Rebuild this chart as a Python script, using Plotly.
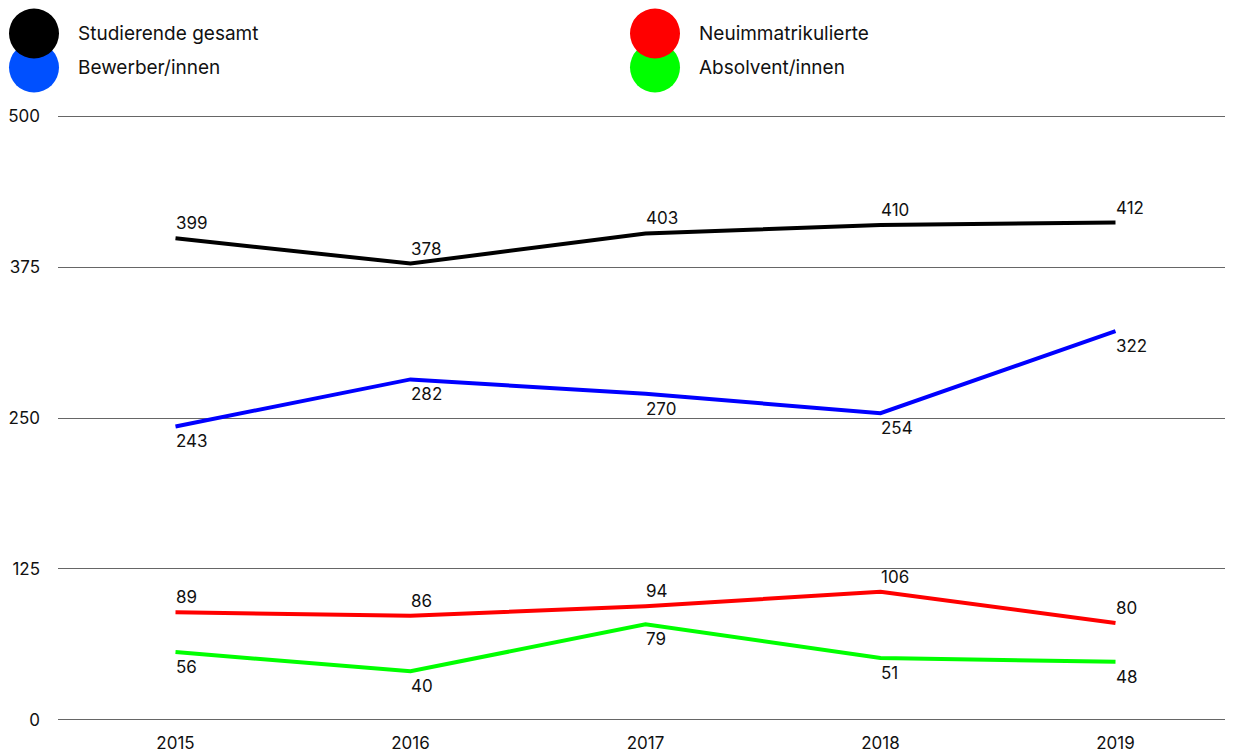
import plotly.graph_objects as go

years = ["2015", "2016", "2017", "2018", "2019"]
studierende = [399, 378, 403, 410, 412]
bewerber = [243, 282, 270, 254, 322]
neuimmatrikulierte = [89, 86, 94, 106, 80]
absolventen = [56, 40, 79, 51, 48]
y_ticks = [0, 125, 250, 375, 500]

# the page body adds an 8px offset; figure is sized to fill the rest
OFF = 8
W, H = 1233 - OFF, 754 - OFF
PXU = 604 / 500.0           # pixels per data unit
PAD = 2                     # data-unit padding so edge gridlines show
L = 58 - OFF
T = 116 - OFF - PAD * PXU
B = 34 - PAD * PXU
R = 0
FONT = "Inter"
TXT = "#111111"

series = [
    ("Studierende gesamt", studierende, "#000000", 1),
    ("Bewerber/innen", bewerber, "#0000ff", -1),
    ("Neuimmatrikulierte", neuimmatrikulierte, "#ff0000", 1),
    ("Absolvent/innen", absolventen, "#00ff00", -1),
]

fig = go.Figure()
annotations = []
for name, vals, col, side in series:
    fig.add_trace(go.Scatter(
        x=years, y=vals, mode="lines", name=name,
        line=dict(color=col, width=4),
        showlegend=False,
    ))
    for i, v in enumerate(vals):
        annotations.append(dict(
            x=i, y=v, xref="x", yref="y", text=str(v), showarrow=False,
            xanchor="left", yanchor="middle", xshift=-2, yshift=15 * side,
            font=dict(family=FONT, size=17, color=TXT)))


def px(x):
    return (x - OFF - L) / (W - L - R)


def py(y):
    return (H - B - (y - OFF)) / (H - T - B)


legend = [
    ("Bewerber/innen", "#0050ff", 34, 67),
    ("Studierende gesamt", "#000000", 34, 33),
    ("Absolvent/innen", "#00ff00", 655, 67),
    ("Neuimmatrikulierte", "#ff0000", 655, 33),
]
shapes = []
r = 25
for name, col, cx, cy in legend:
    shapes.append(dict(type="circle", xref="paper", yref="paper",
                       x0=px(cx - r), x1=px(cx + r), y0=py(cy + r), y1=py(cy - r),
                       fillcolor=col, line=dict(width=0), layer="above"))
    annotations.append(dict(text=name, xref="paper", yref="paper",
                            x=px(cx + 42), y=py(cy), xanchor="left", yanchor="middle",
                            showarrow=False, font=dict(family=FONT, size=19, color=TXT)))

fig.update_layout(
    width=W, height=H,
    margin=dict(l=L, r=R, t=T, b=B, autoexpand=False),
    paper_bgcolor="white", plot_bgcolor="white",
    shapes=shapes, annotations=annotations,
    font=dict(family=FONT, size=17, color=TXT),
    xaxis=dict(type="category", range=[-0.5, 4.5], showgrid=False, showline=False,
               zeroline=False, ticks="", ticklabelstandoff=9, automargin=False,
               tickfont=dict(family=FONT, size=17, color=TXT)),
    yaxis=dict(range=[-PAD, 500 + PAD], tickvals=y_ticks, showgrid=True,
               gridcolor="#666666", gridwidth=1.2, zeroline=False, showline=False,
               ticks="", ticklabelstandoff=17, automargin=False,
               tickfont=dict(family=FONT, size=17, color=TXT)),
)
fig.write_html("out.html")
